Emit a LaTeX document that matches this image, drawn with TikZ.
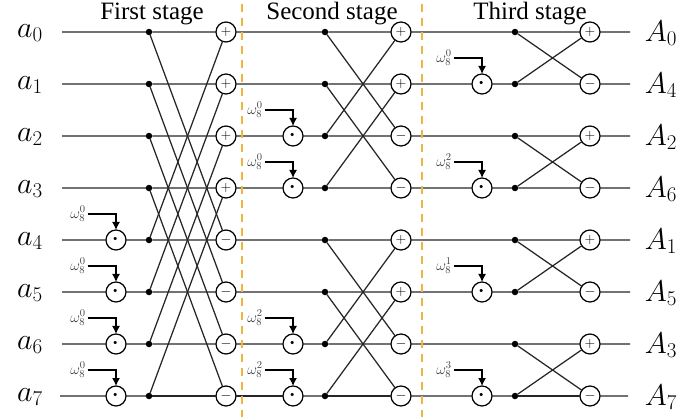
\RequirePackage{fix-cm}
\documentclass[tikz,border=0pt]{standalone}
\usepackage{amsmath, amssymb}
\usepackage{fontspec}
\setmainfont{Liberation Serif}
\usepackage{tkz-graph}
\usetikzlibrary{arrows.meta}
\definecolor{stageOrange}{RGB}{240,182,60}

\begin{document}
\begin{tikzpicture}[scale = 3.5146]
	\tikzstyle{VertexStyle} = []
	\tikzstyle{EdgeStyle} = [line width = 1.25pt, color = black!85]
	\tikzstyle{dotStyle}=[shape = circle, minimum size = 6.5pt, inner sep = 0pt, fill = black]
	\tikzstyle{opStyle}=[shape = circle, minimum size = 20pt, inner sep = 0pt, draw = black, line width = 1.25pt, fill = white, font = \fontsize{14}{14}\selectfont]
	\tikzstyle{mulStyle}=[shape = circle, minimum size = 20pt, inner sep = 0pt, draw = black, line width = 1.25pt, fill = white, font = \fontsize{30}{30}\selectfont]
	\tikzstyle{nameStyle}=[inner sep = 0pt, font = \fontsize{30}{30}\selectfont]
	\tikzstyle{stageStyle}=[inner sep = 0pt, font = \fontsize{25}{25}\selectfont]
	\tikzstyle{weightStyle}=[inner xsep = 2pt, inner ysep = 0pt, text = black!75, font = \fontsize{15}{15}\selectfont]
	\tikzstyle{weightArrow}=[line width = 1.25pt, -{Latex[length = 8pt, width = 8pt]}]
	\tikzstyle{stageLine}=[line width = 1.8pt, color = stageOrange, dash pattern = on 8pt off 6pt]
	\useasboundingbox (0,0) rectangle (6.96,4.19);

	\node[stageStyle] (t1) at (1.52,4.05) {First stage};
	\node[stageStyle] (t2) at (3.32,4.05) {Second stage};
	\node[stageStyle] (t3) at (5.30,4.05) {Third stage};

	\Vertex[style = nameStyle, x = 0.30, y = 3.86, L = {$a_0$}]{a0}
	\Vertex[style = nameStyle, x = 0.30, y = 3.34, L = {$a_1$}]{a1}
	\Vertex[style = nameStyle, x = 0.30, y = 2.82, L = {$a_2$}]{a2}
	\Vertex[style = nameStyle, x = 0.30, y = 2.30, L = {$a_3$}]{a3}
	\Vertex[style = nameStyle, x = 0.30, y = 1.78, L = {$a_4$}]{a4}
	\Vertex[style = nameStyle, x = 0.30, y = 1.26, L = {$a_5$}]{a5}
	\Vertex[style = nameStyle, x = 0.30, y = 0.74, L = {$a_6$}]{a6}
	\Vertex[style = nameStyle, x = 0.30, y = 0.22, L = {$a_7$}]{a7}
	\Vertex[style = nameStyle, x = 6.61, y = 3.86, L = {$A_0$}]{A0}
	\Vertex[style = nameStyle, x = 6.61, y = 3.34, L = {$A_4$}]{A4}
	\Vertex[style = nameStyle, x = 6.61, y = 2.82, L = {$A_2$}]{A2}
	\Vertex[style = nameStyle, x = 6.61, y = 2.30, L = {$A_6$}]{A6}
	\Vertex[style = nameStyle, x = 6.61, y = 1.78, L = {$A_1$}]{A1}
	\Vertex[style = nameStyle, x = 6.61, y = 1.26, L = {$A_5$}]{A5}
	\Vertex[style = nameStyle, x = 6.61, y = 0.74, L = {$A_3$}]{A3}
	\Vertex[style = nameStyle, x = 6.61, y = 0.22, L = {$A_7$}]{A7}

	\coordinate (i0) at (0.62,3.87);
	\coordinate (i1) at (0.62,3.35);
	\coordinate (i2) at (0.62,2.83);
	\coordinate (i3) at (0.62,2.31);
	\coordinate (i4) at (0.62,1.79);
	\coordinate (i5) at (0.62,1.27);
	\coordinate (i6) at (0.62,0.75);
	\coordinate (i7) at (0.60,0.23);
	\coordinate (o0) at (6.30,3.87);
	\coordinate (o1) at (6.30,3.35);
	\coordinate (o2) at (6.30,2.83);
	\coordinate (o3) at (6.30,2.31);
	\coordinate (o4) at (6.30,1.79);
	\coordinate (o5) at (6.30,1.27);
	\coordinate (o6) at (6.30,0.75);
	\coordinate (o7) at (6.28,0.23);

	% first stage
	\Vertex[style = dotStyle, x = 1.49, y = 3.87, L = {\relax}]{d10}
	\Vertex[style = dotStyle, x = 1.49, y = 3.35, L = {\relax}]{d11}
	\Vertex[style = dotStyle, x = 1.49, y = 2.83, L = {\relax}]{d12}
	\Vertex[style = dotStyle, x = 1.49, y = 2.31, L = {\relax}]{d13}
	\Vertex[style = dotStyle, x = 1.49, y = 1.79, L = {\relax}]{d14}
	\Vertex[style = dotStyle, x = 1.49, y = 1.27, L = {\relax}]{d15}
	\Vertex[style = dotStyle, x = 1.49, y = 0.75, L = {\relax}]{d16}
	\Vertex[style = dotStyle, x = 1.49, y = 0.23, L = {\relax}]{d17}
	\Vertex[style = opStyle, x = 2.26, y = 3.87, L = {$+$}]{c10}
	\Vertex[style = opStyle, x = 2.26, y = 3.35, L = {$+$}]{c11}
	\Vertex[style = opStyle, x = 2.26, y = 2.83, L = {$+$}]{c12}
	\Vertex[style = opStyle, x = 2.26, y = 2.31, L = {$+$}]{c13}
	\Vertex[style = opStyle, x = 2.26, y = 1.79, L = {$-$}]{c14}
	\Vertex[style = opStyle, x = 2.26, y = 1.27, L = {$-$}]{c15}
	\Vertex[style = opStyle, x = 2.26, y = 0.75, L = {$-$}]{c16}
	\Vertex[style = opStyle, x = 2.26, y = 0.23, L = {$-$}]{c17}
	\Vertex[style = mulStyle, x = 1.16, y = 1.79, L = {$\cdot$}]{m14}
	\Vertex[style = mulStyle, x = 1.16, y = 1.27, L = {$\cdot$}]{m15}
	\Vertex[style = mulStyle, x = 1.16, y = 0.75, L = {$\cdot$}]{m16}
	\Vertex[style = mulStyle, x = 1.16, y = 0.23, L = {$\cdot$}]{m17}
	\Vertex[style = weightStyle, x = 0.78, y = 2.05, L = {$\omega_8^0$}]{w14}
	\Vertex[style = weightStyle, x = 0.78, y = 1.53, L = {$\omega_8^0$}]{w15}
	\Vertex[style = weightStyle, x = 0.78, y = 1.01, L = {$\omega_8^0$}]{w16}
	\Vertex[style = weightStyle, x = 0.78, y = 0.49, L = {$\omega_8^0$}]{w17}

	% second stage
	\Vertex[style = dotStyle, x = 3.25, y = 3.87, L = {\relax}]{d20}
	\Vertex[style = dotStyle, x = 3.25, y = 3.35, L = {\relax}]{d21}
	\Vertex[style = dotStyle, x = 3.25, y = 2.83, L = {\relax}]{d22}
	\Vertex[style = dotStyle, x = 3.25, y = 2.31, L = {\relax}]{d23}
	\Vertex[style = dotStyle, x = 3.25, y = 1.79, L = {\relax}]{d24}
	\Vertex[style = dotStyle, x = 3.25, y = 1.27, L = {\relax}]{d25}
	\Vertex[style = dotStyle, x = 3.25, y = 0.75, L = {\relax}]{d26}
	\Vertex[style = dotStyle, x = 3.25, y = 0.23, L = {\relax}]{d27}
	\Vertex[style = opStyle, x = 4.01, y = 3.87, L = {$+$}]{c20}
	\Vertex[style = opStyle, x = 4.01, y = 3.35, L = {$+$}]{c21}
	\Vertex[style = opStyle, x = 4.01, y = 2.83, L = {$-$}]{c22}
	\Vertex[style = opStyle, x = 4.01, y = 2.31, L = {$-$}]{c23}
	\Vertex[style = opStyle, x = 4.01, y = 1.79, L = {$+$}]{c24}
	\Vertex[style = opStyle, x = 4.01, y = 1.27, L = {$+$}]{c25}
	\Vertex[style = opStyle, x = 4.01, y = 0.75, L = {$-$}]{c26}
	\Vertex[style = opStyle, x = 4.01, y = 0.23, L = {$-$}]{c27}
	\Vertex[style = mulStyle, x = 2.93, y = 2.83, L = {$\cdot$}]{m22}
	\Vertex[style = mulStyle, x = 2.93, y = 2.31, L = {$\cdot$}]{m23}
	\Vertex[style = mulStyle, x = 2.93, y = 0.75, L = {$\cdot$}]{m26}
	\Vertex[style = mulStyle, x = 2.93, y = 0.23, L = {$\cdot$}]{m27}
	\Vertex[style = weightStyle, x = 2.55, y = 3.09, L = {$\omega_8^0$}]{w22}
	\Vertex[style = weightStyle, x = 2.55, y = 2.57, L = {$\omega_8^0$}]{w23}
	\Vertex[style = weightStyle, x = 2.55, y = 1.01, L = {$\omega_8^2$}]{w26}
	\Vertex[style = weightStyle, x = 2.55, y = 0.49, L = {$\omega_8^2$}]{w27}

	% third stage
	\Vertex[style = dotStyle, x = 5.15, y = 3.87, L = {\relax}]{d30}
	\Vertex[style = dotStyle, x = 5.15, y = 3.35, L = {\relax}]{d31}
	\Vertex[style = dotStyle, x = 5.15, y = 2.83, L = {\relax}]{d32}
	\Vertex[style = dotStyle, x = 5.15, y = 2.31, L = {\relax}]{d33}
	\Vertex[style = dotStyle, x = 5.15, y = 1.79, L = {\relax}]{d34}
	\Vertex[style = dotStyle, x = 5.15, y = 1.27, L = {\relax}]{d35}
	\Vertex[style = dotStyle, x = 5.15, y = 0.75, L = {\relax}]{d36}
	\Vertex[style = dotStyle, x = 5.15, y = 0.23, L = {\relax}]{d37}
	\Vertex[style = opStyle, x = 5.90, y = 3.87, L = {$+$}]{c30}
	\Vertex[style = opStyle, x = 5.90, y = 3.35, L = {$-$}]{c31}
	\Vertex[style = opStyle, x = 5.90, y = 2.83, L = {$+$}]{c32}
	\Vertex[style = opStyle, x = 5.90, y = 2.31, L = {$-$}]{c33}
	\Vertex[style = opStyle, x = 5.90, y = 1.79, L = {$+$}]{c34}
	\Vertex[style = opStyle, x = 5.90, y = 1.27, L = {$-$}]{c35}
	\Vertex[style = opStyle, x = 5.90, y = 0.75, L = {$+$}]{c36}
	\Vertex[style = opStyle, x = 5.90, y = 0.23, L = {$-$}]{c37}
	\Vertex[style = mulStyle, x = 4.82, y = 3.35, L = {$\cdot$}]{m31}
	\Vertex[style = mulStyle, x = 4.82, y = 2.31, L = {$\cdot$}]{m33}
	\Vertex[style = mulStyle, x = 4.82, y = 1.27, L = {$\cdot$}]{m35}
	\Vertex[style = mulStyle, x = 4.82, y = 0.23, L = {$\cdot$}]{m37}
	\Vertex[style = weightStyle, x = 4.44, y = 3.61, L = {$\omega_8^0$}]{w31}
	\Vertex[style = weightStyle, x = 4.44, y = 2.57, L = {$\omega_8^2$}]{w33}
	\Vertex[style = weightStyle, x = 4.44, y = 1.53, L = {$\omega_8^1$}]{w35}
	\Vertex[style = weightStyle, x = 4.44, y = 0.49, L = {$\omega_8^3$}]{w37}

	% rows
	\Edge(i0)(d10) \Edge(d10)(c10) \Edge(c10)(d20) \Edge(d20)(c20) \Edge(c20)(d30) \Edge(d30)(c30) \Edge(c30)(o0)
	\Edge(i1)(d11) \Edge(d11)(c11) \Edge(c11)(d21) \Edge(d21)(c21) \Edge(c21)(m31) \Edge(m31)(d31) \Edge(d31)(c31) \Edge(c31)(o1)
	\Edge(i2)(d12) \Edge(d12)(c12) \Edge(c12)(m22) \Edge(m22)(d22) \Edge(d22)(c22) \Edge(c22)(d32) \Edge(d32)(c32) \Edge(c32)(o2)
	\Edge(i3)(d13) \Edge(d13)(c13) \Edge(c13)(m23) \Edge(m23)(d23) \Edge(d23)(c23) \Edge(c23)(m33) \Edge(m33)(d33) \Edge(d33)(c33) \Edge(c33)(o3)
	\Edge(i4)(m14) \Edge(m14)(d14) \Edge(d14)(c14) \Edge(c14)(d24) \Edge(d24)(c24) \Edge(c24)(d34) \Edge(d34)(c34) \Edge(c34)(o4)
	\Edge(i5)(m15) \Edge(m15)(d15) \Edge(d15)(c15) \Edge(c15)(d25) \Edge(d25)(c25) \Edge(c25)(m35) \Edge(m35)(d35) \Edge(d35)(c35) \Edge(c35)(o5)
	\Edge(i6)(m16) \Edge(m16)(d16) \Edge(d16)(c16) \Edge(c16)(m26) \Edge(m26)(d26) \Edge(d26)(c26) \Edge(c26)(d36) \Edge(d36)(c36) \Edge(c36)(o6)
	\Edge(i7)(m17) \Edge(m17)(d17) \Edge(d17)(c17) \Edge(c17)(m27) \Edge(m27)(d27) \Edge(d27)(c27) \Edge(c27)(m37) \Edge(m37)(d37) \Edge(d37)(c37) \Edge(c37)(o7)

	% crossings
	\Edge(d10)(c14) \Edge(d11)(c15) \Edge(d12)(c16) \Edge(d13)(c17)
	\Edge(d14)(c10) \Edge(d15)(c11) \Edge(d16)(c12) \Edge(d17)(c13)
	\Edge(d20)(c22) \Edge(d21)(c23) \Edge(d22)(c20) \Edge(d23)(c21)
	\Edge(d24)(c26) \Edge(d25)(c27) \Edge(d26)(c24) \Edge(d27)(c25)
	\Edge(d30)(c31) \Edge(d31)(c30) \Edge(d32)(c33) \Edge(d33)(c32)
	\Edge(d34)(c35) \Edge(d35)(c34) \Edge(d36)(c37) \Edge(d37)(c36)

	% twiddle factors
	\draw[weightArrow] (w14.east) -| (m14.north);
	\draw[weightArrow] (w15.east) -| (m15.north);
	\draw[weightArrow] (w16.east) -| (m16.north);
	\draw[weightArrow] (w17.east) -| (m17.north);
	\draw[weightArrow] (w22.east) -| (m22.north);
	\draw[weightArrow] (w23.east) -| (m23.north);
	\draw[weightArrow] (w26.east) -| (m26.north);
	\draw[weightArrow] (w27.east) -| (m27.north);
	\draw[weightArrow] (w31.east) -| (m31.north);
	\draw[weightArrow] (w33.east) -| (m33.north);
	\draw[weightArrow] (w35.east) -| (m35.north);
	\draw[weightArrow] (w37.east) -| (m37.north);

	% stage borders
	\coordinate (b1) at (2.42,4.15);
	\coordinate (e1) at (2.42,0.02);
	\coordinate (b2) at (4.22,4.15);
	\coordinate (e2) at (4.22,0.02);
	\draw[stageLine] (b1) -- (e1);
	\draw[stageLine] (b2) -- (e2);
\end{tikzpicture}
\end{document}
